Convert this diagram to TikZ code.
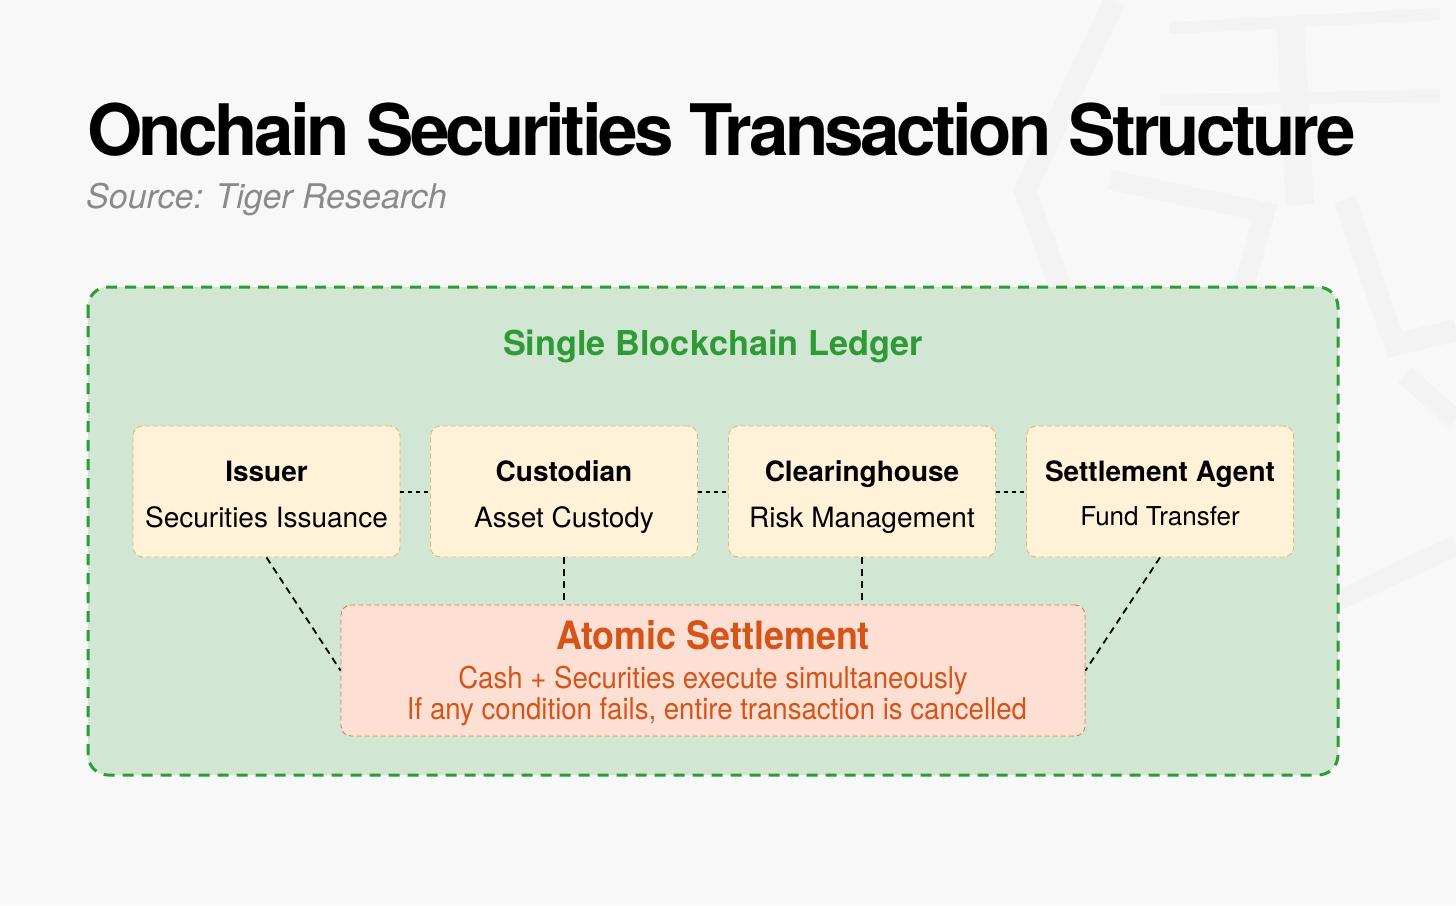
\documentclass[tikz,border=0pt]{standalone}
\usepackage{fontspec}
\setmainfont{TeX Gyre Heros}
\newfontfamily\titlefont[LetterSpace=-5]{TeX Gyre Heros}
\newfontfamily\condfont[FakeStretch=0.92]{TeX Gyre Heros}
\usetikzlibrary{positioning,calc}
\definecolor{bgc}{HTML}{F8F8F8}
\definecolor{wmark}{HTML}{F3F3F3}
\definecolor{ledgerfill}{HTML}{D2E7D3}
\definecolor{ledgerline}{HTML}{2E9B36}
\definecolor{rolefill}{HTML}{FFF2D8}
\definecolor{roleline}{HTML}{E3B868}
\definecolor{atomfill}{HTML}{FDE0D3}
\definecolor{atomline}{HTML}{DD7A4C}
\definecolor{atomtext}{HTML}{D4541A}
\definecolor{srcgray}{HTML}{8A8A8A}
\tikzset{
  rolebox/.style={draw=roleline, fill=rolefill, line width=0.9pt, dash pattern=on 5pt off 3pt, rounded corners=10pt, minimum width=267pt, minimum height=131pt, inner sep=0pt},
  roletitle/.style={font=\fontsize{28}{32}\selectfont\bfseries, anchor=base, inner sep=0pt},
  rolesub/.style={font=\fontsize{28}{32}\selectfont, anchor=base, inner sep=0pt},
  linkdot/.style={line width=2pt, dash pattern=on 4pt off 4pt},
  linkdash/.style={line width=1.8pt, dash pattern=on 7pt off 5pt},
  wm/.style={wmark, line width=22pt, line join=miter},
}
\begin{document}
\begin{tikzpicture}[x=1pt,y=-1pt]
\fill[bgc] (0,0) rectangle (1456,905);
\useasboundingbox (0,0) rectangle (1456,905);
% faint watermark
\draw[wm] (1115,0) -- (1025,190) -- (1065,300);
\draw[wm, line width=12pt] (1170,28) -- (1440,14);
\draw[wm, line width=12pt] (1160,100) -- (1440,96);
\draw[wm, line width=28pt] (1290,20) -- (1300,205);
\draw[wm, line width=20pt] (1110,180) -- (1265,212) -- (1240,300);
\draw[wm, line width=22pt] (1345,200) -- (1395,345) -- (1456,330);
\draw[wm, line width=20pt] (1405,375) -- (1456,420);
\draw[wm, line width=20pt] (1340,600) -- (1456,545);
% title
\node[anchor=base west, inner sep=0pt, font=\titlefont\fontsize{71}{80}\selectfont\bfseries] (title) at (87,155) {Onchain Securities Transaction Structure};
\node[anchor=base west, inner sep=0pt, font=\fontsize{34}{40}\selectfont\itshape, text=srcgray] (src) at (86,208) {Source: Tiger Research};
% ledger
\draw[ledgerline, fill=ledgerfill, line width=3pt, dash pattern=on 11pt off 8pt, rounded corners=20pt] (88,287) rectangle (1338,775);
\node[anchor=base, inner sep=0pt, font=\fontsize{34.3}{38}\selectfont\bfseries, text=ledgerline] (ledger) at (713,355) {Single Blockchain Ledger};
% role boxes
\node[rolebox] (issuer) at (266.5,491.5) {};
\node[rolebox] (cust) at (564,491.5) {};
\node[rolebox] (clear) at (862,491.5) {};
\node[rolebox] (settle) at (1160,491.5) {};
\node[roletitle] (issuerT) at (266.5,481) {Issuer};
\node[rolesub] (issuerS) at (266.5,527) {Securities Issuance};
\node[roletitle] (custT) at (564,481) {Custodian};
\node[rolesub] (custS) at (564,527) {Asset Custody};
\node[roletitle] (clearT) at (862,481) {Clearinghouse};
\node[rolesub] (clearS) at (862,527) {Risk Management};
\node[roletitle] (settleT) at (1160,481) {Settlement Agent};
\node[anchor=base, inner sep=0pt, font=\fontsize{26}{30}\selectfont] (settleS) at (1160,525) {Fund Transfer};
% links between boxes
\draw[linkdot] (issuer.east) -- (cust.west);
\draw[linkdot] (cust.east) -- (clear.west);
\draw[linkdot] (clear.east) -- (settle.west);
% atomic settlement
\node[draw=atomline, fill=atomfill, line width=0.9pt, dash pattern=on 5pt off 3pt, rounded corners=10pt, minimum width=744pt, minimum height=131pt, inner sep=0pt] (atomic) at (713,670.5) {};
\node[anchor=base, inner sep=0pt, font=\condfont\fontsize{39}{44}\selectfont\bfseries, text=atomtext] (atomT) at (713,649) {Atomic Settlement};
\node[anchor=base, inner sep=0pt, font=\condfont\fontsize{30}{34}\selectfont, text=atomtext] (atomL1) at (713,688) {Cash + Securities execute simultaneously};
\node[anchor=base, inner sep=0pt, font=\condfont\fontsize{30}{34}\selectfont, text=atomtext] (atomL2) at (717,719) {If any condition fails, entire transaction is cancelled};
% links to atomic
\draw[linkdash] (issuer.south) -- (atomic.west);
\draw[linkdash] (cust.south) -- (cust.south |- atomic.north);
\draw[linkdash] (clear.south) -- (clear.south |- atomic.north);
\draw[linkdash] (settle.south) -- (atomic.east);
\end{tikzpicture}
\end{document}
